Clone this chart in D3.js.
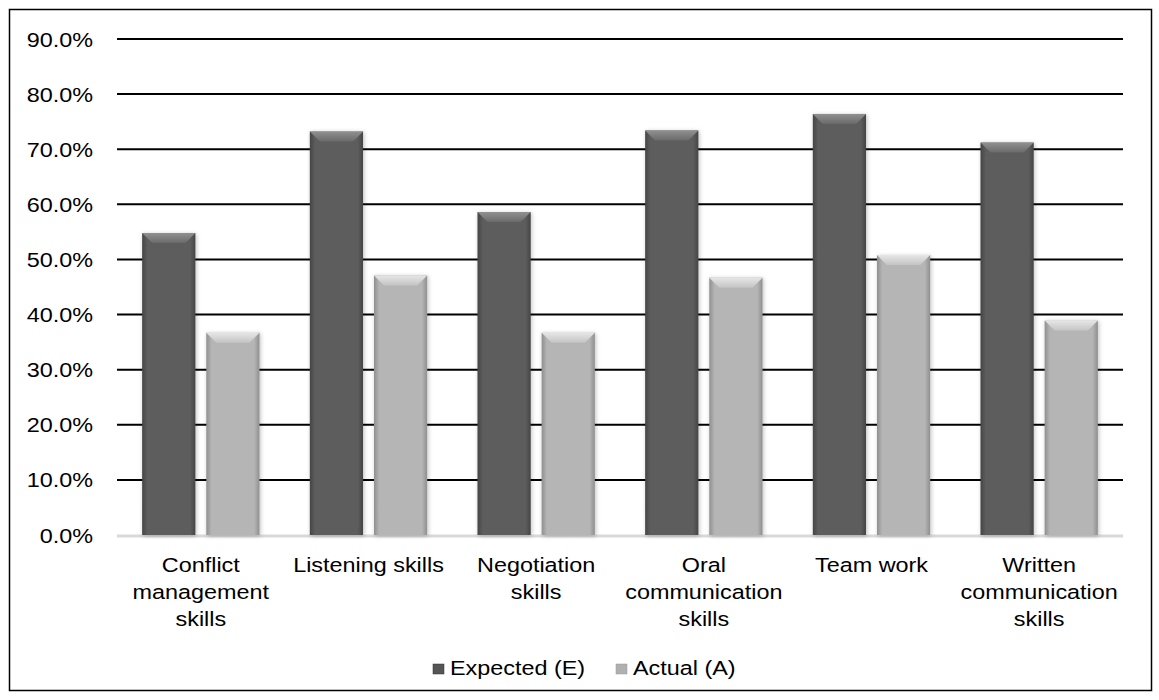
<!DOCTYPE html>
<html><head><meta charset="utf-8">
<script src="https://cdn.jsdelivr.net/npm/d3@7"></script>
<style>body{margin:0;background:#fff;}svg{display:block;font-family:"Liberation Sans",Arial,sans-serif;}</style>
</head><body><svg id="c" width="1159" height="700"></svg>
<script>
const categories = [["Conflict","management","skills"],["Listening skills"],["Negotiation","skills"],["Oral","communication","skills"],["Team work"],["Written","communication","skills"]];
const expected = [54.8, 73.2, 58.6, 73.4, 76.4, 71.2];
const actual = [36.7, 47.1, 36.7, 46.7, 50.8, 38.9];
const seriesNames = ["Expected (E)", "Actual (A)"];
const yTicks = [0,10,20,30,40,50,60,70,80,90];

(function(){
const svg = d3.select("#c");
const FS = 19.5, SX = 1.2;
svg.append("rect").attr("x",9.5).attr("y",9.5).attr("width",1142).attr("height",681).attr("fill","#fff").attr("stroke","#000").attr("stroke-width",1.5);

const pL=117,pR=1123,pT=39,pB=535;
const y = d3.scaleLinear().domain([0,90]).range([pB,pT]);
const x0 = d3.scaleBand().domain(d3.range(categories.length)).range([pL,pR]).paddingInner(0.3).paddingOuter(0.15);
const x1 = d3.scaleBand().domain([0,1]).range([0,x0.bandwidth()]).paddingInner(0.17);

const defs = svg.append("defs");
function grad(id, edge, mid){
  const g = defs.append("linearGradient").attr("id",id).attr("x1","0").attr("x2","1").attr("y1","0").attr("y2","0");
  g.append("stop").attr("offset","0").attr("stop-color",edge);
  g.append("stop").attr("offset","0.1").attr("stop-color",mid);
  g.append("stop").attr("offset","0.9").attr("stop-color",mid);
  g.append("stop").attr("offset","1").attr("stop-color",edge);
}
grad("gE","#454545","#5d5d5d");
grad("gA","#8f8f8f","#b5b5b5");
function tgrad(id, a, b){
  const g = defs.append("linearGradient").attr("id",id).attr("x1","0").attr("x2","0").attr("y1","0").attr("y2","1");
  g.append("stop").attr("offset","0").attr("stop-color",a);
  g.append("stop").attr("offset","1").attr("stop-color",b);
}
tgrad("tE","#909090","#6a6a6a");
tgrad("tA","#e6e6e6","#c4c4c4");
const f = defs.append("filter").attr("id","sh").attr("x","-20%").attr("y","-5%").attr("width","140%").attr("height","115%");
f.append("feDropShadow").attr("dx",1).attr("dy",1).attr("stdDeviation",2).attr("flood-color","#000").attr("flood-opacity",0.25);

function stext(x, yy, str, anchor){
  return svg.append("text").attr("transform",`translate(${x},${yy}) scale(${SX},1)`)
    .attr("text-anchor",anchor).attr("font-size",FS).attr("fill","#000").text(str);
}

svg.append("g").selectAll("line").data(yTicks.filter(d=>d>0)).join("line")
  .attr("x1",pL).attr("x2",pR).attr("y1",d=>y(d)).attr("y2",d=>y(d))
  .attr("stroke","#000").attr("stroke-width",2);
svg.append("line").attr("x1",pL).attr("x2",pR).attr("y1",y(0)+1).attr("y2",y(0)+1).attr("stroke","#d9d9d9").attr("stroke-width",3);

yTicks.forEach(d=>stext(93, y(d)+7.5, d3.format(".1f")(d)+"%", "end"));

const series = [{vals:expected,fill:"url(#gE)",tp:"url(#tE)"},{vals:actual,fill:"url(#gA)",tp:"url(#tA)"}];
series.forEach((s,si)=>{
  const g = svg.append("g");
  s.vals.forEach((v,i)=>{
    const bx = x0(i)+x1(si), bw = x1.bandwidth(), by = y(v), bh = y(0)-y(v);
    const bg = g.append("g").attr("filter","url(#sh)");
    bg.append("rect").attr("x",bx).attr("y",by).attr("width",bw).attr("height",bh).attr("fill",s.fill);
    const b=10;
    bg.append("path").attr("d",`M${bx},${by}L${bx+bw},${by}L${bx+bw-b},${by+b}L${bx+b},${by+b}Z`).attr("fill",s.tp);
  });
});

categories.forEach((lines,i)=>{
  const cx = x0(i)+x0.bandwidth()/2;
  lines.forEach((l,j)=>stext(cx, 571.5+27*j, l, "middle"));
});

const legX=[433,616], cols=["#555","#b0b0b0"];
seriesNames.forEach((n,i)=>{
  svg.append("rect").attr("x",legX[i]).attr("y",664).attr("width",11).attr("height",10).attr("fill",cols[i]).attr("stroke",i?"#999":"#333").attr("stroke-width",0.5);
  stext(legX[i]+17, 675, n, "start");
});
})();
</script></body></html>
